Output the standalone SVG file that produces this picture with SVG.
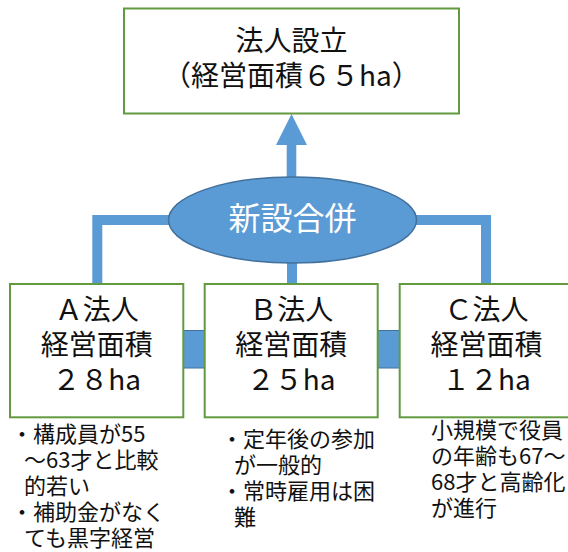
<svg xmlns="http://www.w3.org/2000/svg" width="568" height="552" viewBox="0 0 568 552">
<style>
.box{fill:#fff;stroke:#629a40;stroke-width:2}
.t{font-family:"Noto Sans CJK JP","Noto Sans",sans-serif;fill:#111;text-anchor:middle;font-size:28px}
.n{font-family:"Noto Sans CJK JP","Noto Sans",sans-serif;fill:#111;font-size:22px}
.bar{fill:none;stroke:#5b9bd5;stroke-width:10}
.link{fill:#5b9bd5;stroke:#41719c;stroke-width:1}
</style>
<rect width="568" height="552" fill="#fff"/>
<g id="connectors">
<polygon points="291.5,114 307,145 296.3,145 296.3,180 286.7,180 286.7,145 276,145" fill="#5b9bd5"/>
<path class="bar" d="M97.3,284 V220 H180"/>
<path class="bar" d="M486,284 V220 H400"/>
<path class="bar" d="M292,255 V284"/>
<rect class="link" x="180" y="330.5" width="28" height="37.5"/>
<rect class="link" x="375" y="330.5" width="28" height="37.5"/>
</g>
<g id="top">
<rect class="box" x="124" y="8.5" width="335" height="105"/>
<text class="t" x="291.5" y="51">法人設立</text>
<text class="t" x="291.5" y="86">（経営面積６５ha）</text>
</g>
<g id="merge">
<ellipse cx="292.5" cy="220" rx="124" ry="43" fill="#5b9bd5" stroke="#41719c" stroke-width="1.5"/>
<text class="t" x="292.5" y="230" style="fill:#fff;font-size:32px">新設合併</text>
</g>
<g id="a">
<rect class="box" x="10" y="284" width="173.3" height="133.3"/>
<text class="t" x="96.7" y="320">Ａ法人</text>
<text class="t" x="96.7" y="355">経営面積</text>
<text class="t" x="96.7" y="390">２８ha</text>
</g>
<g id="b">
<rect class="box" x="204.7" y="284" width="173" height="133.3"/>
<text class="t" x="291.2" y="320">Ｂ法人</text>
<text class="t" x="291.2" y="355">経営面積</text>
<text class="t" x="291.2" y="390">２５ha</text>
</g>
<g id="c">
<rect class="box" x="399.7" y="284" width="173.3" height="133.3"/>
<text class="t" x="486.4" y="320">Ｃ法人</text>
<text class="t" x="486.4" y="355">経営面積</text>
<text class="t" x="486.4" y="390">１２ha</text>
</g>
<g id="note-a">
<text class="n" x="11" y="442">・構成員が55</text>
<text class="n" x="24" y="468">～63才と比較</text>
<text class="n" x="24" y="494">的若い</text>
<text class="n" x="11" y="520">・補助金がなく</text>
<text class="n" x="24" y="546">ても黒字経営</text>
</g>
<g id="note-b">
<text class="n" x="221" y="447">・定年後の参加</text>
<text class="n" x="234" y="473">が一般的</text>
<text class="n" x="221" y="499">・常時雇用は困</text>
<text class="n" x="234" y="525">難</text>
</g>
<g id="note-c">
<text class="n" x="431" y="438">小規模で役員</text>
<text class="n" x="431" y="464">の年齢も67～</text>
<text class="n" x="431" y="490">68才と高齢化</text>
<text class="n" x="431" y="516">が進行</text>
</g>
</svg>
